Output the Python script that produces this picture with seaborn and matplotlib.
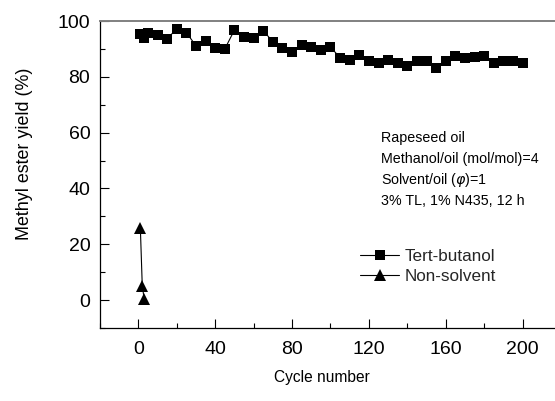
#!/usr/bin/env python3
"""Methyl ester yield over repeated lipase cycles: tert-butanol vs non-solvent."""

import matplotlib
matplotlib.use("Agg")
import matplotlib.lines as mlines
import matplotlib.pyplot as plt
import pandas as pd
import seaborn as sns
from matplotlib.ticker import MultipleLocator

# Tert-butanol system
TB_CYCLE = [1, 3, 5, 10, 15, 20, 25, 30, 35, 40, 45, 50, 55, 60, 65, 70, 75, 80,
            85, 90, 95, 100, 105, 110, 115, 120, 125, 130, 135, 140, 145, 150,
            155, 160, 165, 170, 175, 180, 185, 190, 195, 200]
TB_YIELD = [95.2, 93.8, 95.6, 95.0, 93.6, 97.3, 95.8, 91.1, 93.0, 90.2, 90.0,
            96.8, 94.4, 94.0, 96.5, 92.6, 90.5, 88.9, 91.4, 90.6, 89.6, 90.6,
            86.9, 86.1, 87.9, 85.7, 84.9, 86.1, 84.9, 84.0, 85.7, 85.7, 83.1,
            85.5, 87.5, 86.7, 87.0, 87.5, 85.1, 85.7, 85.7, 85.1]

# Solvent-free system
NS_CYCLE = [1, 2, 3]
NS_YIELD = [26.0, 5.2, 0.4]

TB = "Tert-butanol"
NS = "Non-solvent"

CONDITIONS = [
    "Rapeseed oil",
    "Methanol/oil (mol/mol)=4",
    r"Solvent/oil ($\varphi$)=1",
    "3% TL, 1% N435, 12 h",
]

W, H = 555, 401
AX_W, AX_H = 461, 307


def main() -> None:
    sns.set_theme(style="ticks")
    plt.rcParams["font.family"] = ["Liberation Sans", "DejaVu Sans"]
    plt.rcParams["mathtext.fontset"] = "dejavusans"

    tb = pd.DataFrame({"cycle": TB_CYCLE, "yield": TB_YIELD})
    ns = pd.DataFrame({"cycle": NS_CYCLE, "yield": NS_YIELD})

    fig = plt.figure(figsize=(W / 100, H / 100), dpi=100)
    # axes runs slightly past the right edge, as in the cropped original
    ax = fig.add_axes([100 / W, 73 / H, AX_W / W, AX_H / H])

    sns.lineplot(data=tb, x="cycle", y="yield", color="black", marker="s",
                 markersize=6.8, markeredgewidth=0, linewidth=0.8, ax=ax)
    sns.lineplot(data=ns, x="cycle", y="yield", color="black", marker="^",
                 markersize=8.5, markeredgewidth=0, linewidth=0.8, ax=ax)

    ax.set_xlim(-20, 220)
    ax.set_ylim(-10, 100)
    ax.xaxis.set_minor_locator(MultipleLocator(20))
    ax.yaxis.set_minor_locator(MultipleLocator(10))
    ax.set_xticks([0, 40, 80, 120, 160, 200])
    ax.set_yticks([0, 20, 40, 60, 80, 100])

    ax.tick_params(which="both", direction="in", color="black", width=0.8,
                   labelsize=14, labelcolor="black")
    ax.tick_params(which="major", length=6.5)
    ax.tick_params(which="minor", length=3.6)
    ax.tick_params(axis="x", pad=9)
    ax.tick_params(axis="y", pad=7)

    for side in ("left", "bottom"):
        ax.spines[side].set_color("black")
        ax.spines[side].set_linewidth(0.9)
    ax.spines["top"].set_color("#808080")
    ax.spines["top"].set_linewidth(1.4)
    ax.spines["right"].set_visible(False)

    ax.set_xlabel("Cycle number", fontsize=11.2, color="black")
    ax.set_ylabel("Methyl ester yield (%)", fontsize=12.9, color="black")
    ax.xaxis.set_label_coords((322 - 100) / AX_W, -(370 - 328) / AX_H)
    ax.yaxis.set_label_coords(-(100 - 33) / AX_W, (328 - 154) / AX_H)

    for i, line in enumerate(CONDITIONS):
        fig.text(381 / W, 1 - (138 + 21 * i) / H, line, fontsize=10.3,
                 va="center", ha="left", color="black")

    handles = [
        mlines.Line2D([], [], color="black", marker="s", markersize=6.8,
                      markeredgewidth=0, linewidth=0.8, label=TB),
        mlines.Line2D([], [], color="black", marker="^", markersize=8.5,
                      markeredgewidth=0, linewidth=0.8, label=NS),
    ]
    ax.legend(handles=handles, loc="center left", frameon=False,
              bbox_to_anchor=(360 / W, 1 - 266.5 / H),
              bbox_transform=fig.transFigure, fontsize=12.3,
              handlelength=2.3, handletextpad=0.33, labelspacing=0.28,
              borderpad=0, borderaxespad=0)

    fig.savefig("out.png", dpi=100)
    plt.close(fig)


if __name__ == "__main__":
    main()
